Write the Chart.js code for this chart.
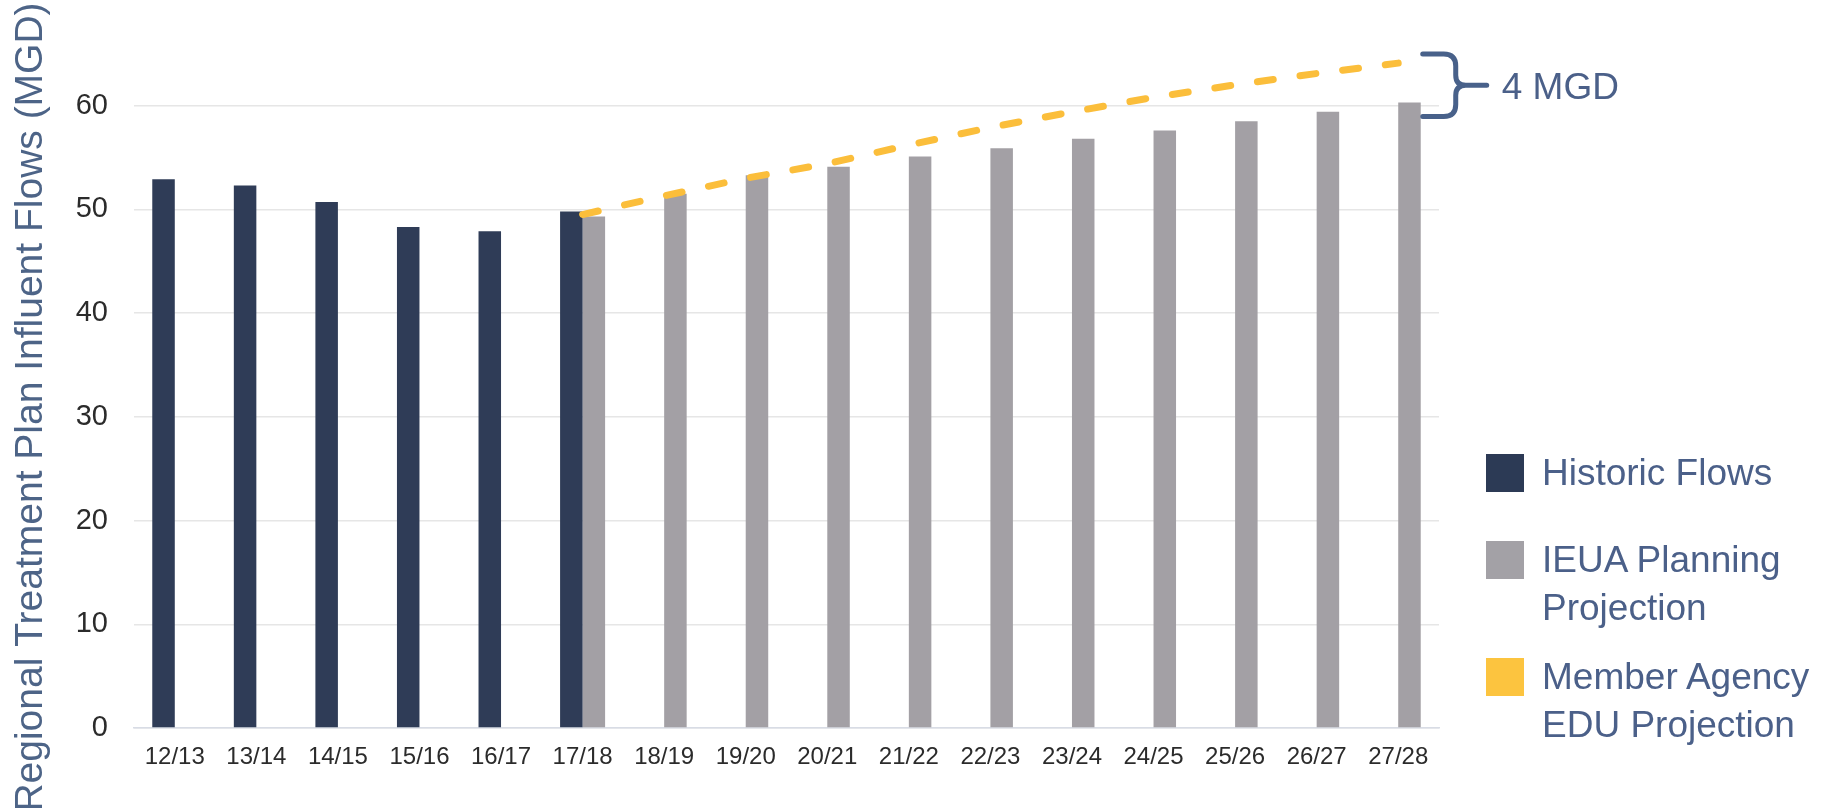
<!DOCTYPE html>
<html>
<head>
<meta charset="utf-8">
<script src="https://cdn.jsdelivr.net/npm/chart.js@4.4.1/dist/chart.umd.min.js"></script>
<style>
    body { margin: 0; background: #ffffff; }
    #wrap { position: relative; width: 1838px; height: 808px; }
    #legend { position: absolute; left: 1486px; top: 0; width: 352px; height: 808px;
              font-family: "Liberation Sans", Arial, sans-serif; font-size: 37px; color: #4b6089; }
    #legend .item { position: absolute; left: 0; display: flex; align-items: flex-start; }
    #legend .item:nth-child(1) { top: 449px; }
    #legend .item:nth-child(2) { top: 536px; }
    #legend .item:nth-child(3) { top: 653px; }
    #legend .box { width: 38px; height: 38px; margin-top: 5px; margin-right: 18px; flex: none; }
    #legend .text { width: 292px; line-height: 48px; }
</style>
</head>
<body>
<div id="wrap">
    <canvas id="chartCanvas"></canvas>
    <div id="legend"></div>
</div>
<script>
const years = ['12/13', '13/14', '14/15', '15/16', '16/17', '17/18', '18/19', '19/20',
               '20/21', '21/22', '22/23', '23/24', '24/25', '25/26', '26/27', '27/28'];
const historicFlows = [52.9, 52.3, 50.7, 48.3, 47.9, 49.8, null, null,
                       null, null, null, null, null, null, null, null];
const ieuaProjection = [null, null, null, null, null, 49.3, 51.5, 53.3,
                        54.1, 55.1, 55.9, 56.8, 57.6, 58.5, 59.4, 60.3];
const memberEduProjection = [null, null, null, null, null, 49.5, 51.3, 53.0,
                             54.4, 56.2, 57.9, 59.4, 60.8, 62.0, 63.1, 64.1];
const yTicks = [0, 10, 20, 30, 40, 50, 60];
const yTitle = 'Regional Treatment Plan Influent Flows (MGD)';
const gapLabel = '4 MGD';

const navy = '#2f3c57';
const grey = '#a3a0a5';
const gold = '#fbbe3b';
const slate = '#4b6089';

// y axis title, drawn rotated and centred on the canvas height
const yTitlePlugin = {
    id: 'yTitle',
    afterDraw(chart) {
        const ctx = chart.ctx;
        ctx.save();
        ctx.translate(42, 407);
        ctx.rotate(-Math.PI / 2);
        ctx.font = '39px "Liberation Sans", Arial, sans-serif';
        ctx.fillStyle = '#4d6487';
        ctx.textAlign = 'center';
        ctx.textBaseline = 'alphabetic';
        ctx.fillText(yTitle, 0, 0);
        ctx.restore();
    }
};

// curly bracket between the last bar and the last point of the dashed line
const gapPlugin = {
    id: 'gapBracket',
    afterDraw(chart) {
        const last = years.length - 1;
        const bar = chart.getDatasetMeta(1).data[last];
        const y = chart.scales.y;
        const L = bar.x + bar.width / 2 + 2;
        const top = y.getPixelForValue(memberEduProjection[last]) - 9;
        const bottom = y.getPixelForValue(ieuaProjection[last]) + 14;
        const mid = (top + bottom) / 2;
        const S = L + 33;
        const T = L + 64;
        const ctx = chart.ctx;
        ctx.save();
        ctx.strokeStyle = '#48618a';
        ctx.lineWidth = 5;
        ctx.lineCap = 'round';
        ctx.lineJoin = 'round';
        ctx.beginPath();
        ctx.moveTo(L, top);
        ctx.lineTo(S - 12, top);
        ctx.quadraticCurveTo(S, top, S, top + 12);
        ctx.lineTo(S, mid - 10);
        ctx.quadraticCurveTo(S, mid, S + 10, mid);
        ctx.lineTo(T, mid);
        ctx.moveTo(S + 10, mid);
        ctx.quadraticCurveTo(S, mid, S, mid + 10);
        ctx.lineTo(S, bottom - 12);
        ctx.quadraticCurveTo(S, bottom, S - 12, bottom);
        ctx.lineTo(L, bottom);
        ctx.stroke();
        ctx.font = '37px "Liberation Sans", Arial, sans-serif';
        ctx.fillStyle = slate;
        ctx.textAlign = 'left';
        ctx.textBaseline = 'alphabetic';
        ctx.fillText(gapLabel, L + 79, mid + 14);
        ctx.restore();
    }
};

function buildLegend(chart) {
    const legend = document.getElementById('legend');
    legend.innerHTML = '';
    chart.data.datasets.forEach(ds => {
        const item = document.createElement('div');
        item.className = 'item';
        const box = document.createElement('div');
        box.className = 'box';
        box.style.background = ds.legendColor;
        const text = document.createElement('div');
        text.className = 'text';
        text.textContent = ds.label;
        item.appendChild(box);
        item.appendChild(text);
        legend.appendChild(item);
    });
}

const chart = new Chart(document.getElementById('chartCanvas'), {
    type: 'bar',
    data: {
        labels: years,
        datasets: [
            {
                label: 'Historic Flows',
                data: historicFlows,
                backgroundColor: navy,
                legendColor: '#2c3a55',
                categoryPercentage: 0.552,
                barPercentage: 1.0
            },
            {
                label: 'IEUA Planning Projection',
                data: ieuaProjection,
                backgroundColor: grey,
                legendColor: '#a3a1a6',
                categoryPercentage: 0.552,
                barPercentage: 1.0
            },
            {
                type: 'line',
                label: 'Member Agency EDU Projection',
                data: memberEduProjection,
                borderColor: gold,
                legendColor: '#fcc43f',
                borderWidth: 7,
                borderDash: [16, 27],
                borderCapStyle: 'round',
                pointRadius: 0,
                fill: false,
                tension: 0,
                order: -1
            }
        ]
    },
    options: {
        responsive: true,
        maintainAspectRatio: false,
        animation: false,
        layout: {
            padding: { left: 0, right: 399, top: 30, bottom: 0 }
        },
        plugins: {
            legend: { display: false },
            tooltip: { enabled: false }
        },
        scales: {
            x: {
                grid: { display: false, drawTicks: false },
                border: { display: true, color: '#d8dce5', width: 1.5 },
                ticks: {
                    color: '#2b2b2b',
                    padding: 15,
                    font: { family: '"Liberation Sans", Arial, sans-serif', size: 24 }
                },
                afterFit: scale => { scale.height = 80; }
            },
            y: {
                min: 0,
                max: 66,
                grid: { color: '#e6e6e6', lineWidth: 1.5, drawTicks: false },
                border: { display: false },
                ticks: {
                    stepSize: 10,
                    color: '#2b2b2b',
                    padding: 26,
                    font: { family: '"Liberation Sans", Arial, sans-serif', size: 29 }
                },
                afterBuildTicks: scale => {
                    scale.ticks = yTicks.map(v => ({ value: v }));
                },
                afterFit: scale => { scale.width = 134; }
            }
        }
    },
    plugins: [yTitlePlugin, gapPlugin]
});

buildLegend(chart);
</script>
</body>
</html>
